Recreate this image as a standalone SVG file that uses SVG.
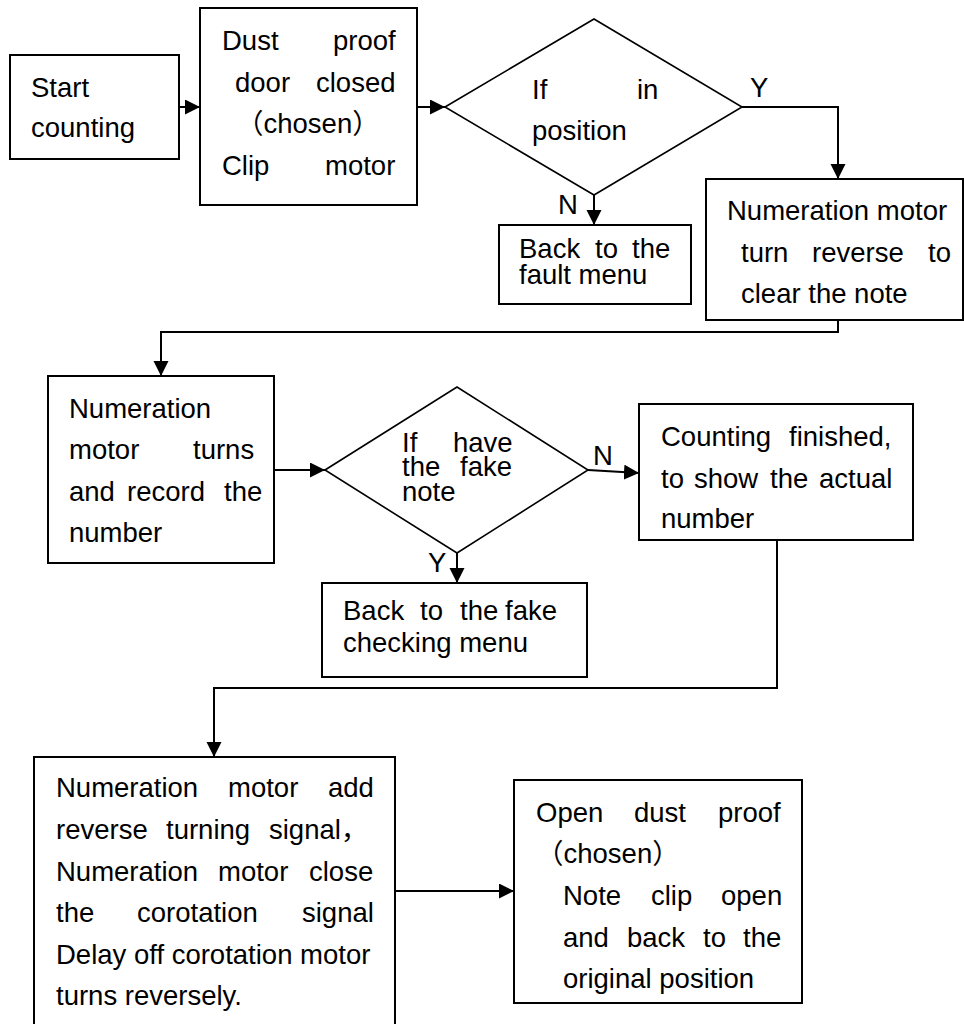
<svg xmlns="http://www.w3.org/2000/svg" width="964" height="1024" viewBox="0 0 964 1024">
<style>
text{font-family:"Liberation Sans","Noto Sans CJK SC",Arial,sans-serif;font-size:27.5px;fill:#000}
.box{fill:#fff;stroke:#000;stroke-width:2}
.dia{fill:#fff;stroke:#000;stroke-width:1.6}
.con{fill:none;stroke:#000;stroke-width:2}
</style>
<defs>
<marker id="ah" markerUnits="userSpaceOnUse" markerWidth="16" markerHeight="16" refX="15" refY="7.5" orient="auto">
<path d="M0,0 L15,7.5 L0,15 Z" fill="#000"/>
</marker>
</defs>
<rect width="964" height="1024" fill="#fff"/>

<g id="connectors">
<path class="con" d="M179,107 H200" marker-end="url(#ah)"/>
<path class="con" d="M417,107 H445" marker-end="url(#ah)"/>
<path class="con" d="M742,107 H838 V179" marker-end="url(#ah)"/>
<path class="con" d="M594,195 V225" marker-end="url(#ah)"/>
<path class="con" d="M838,320 V332 H161 V376" marker-end="url(#ah)"/>
<path class="con" d="M274,470 H325" marker-end="url(#ah)"/>
<path class="con" d="M457,553 V583" marker-end="url(#ah)"/>
<path class="con" d="M588,470 L639,473" marker-end="url(#ah)"/>
<path class="con" d="M777,540 V688 H214 V757" marker-end="url(#ah)"/>
<path class="con" d="M395,891 H514" marker-end="url(#ah)"/>
<text x="750" y="97">Y</text>
<text x="558" y="214">N</text>
<text x="428" y="572">Y</text>
<text x="593" y="465">N</text>
</g>

<g id="start">
<rect class="box" x="10" y="55" width="169" height="104"/>
<text><tspan x="31" y="97">Start</tspan><tspan x="31" y="137">counting</tspan></text>
</g>

<g id="dust-door">
<rect class="box" x="200" y="8" width="217" height="197"/>
<text><tspan x="222" y="50">Dust</tspan><tspan x="333" y="50">proof</tspan><tspan x="235" y="92">door</tspan><tspan x="316" y="92">closed</tspan><tspan x="236" y="133">（chosen）</tspan><tspan x="222" y="175">Clip</tspan><tspan x="325" y="175">motor</tspan></text>
</g>

<g id="in-position">
<polygon class="dia" points="445,107 594,19 742,107 594,195"/>
<text><tspan x="532" y="99">If</tspan><tspan x="637" y="99">in</tspan><tspan x="532" y="140">position</tspan></text>
</g>

<g id="fault-menu">
<rect class="box" x="499" y="225" width="192" height="79"/>
<text><tspan x="519" y="258">Back</tspan><tspan x="595" y="258">to</tspan><tspan x="632" y="258">the</tspan><tspan x="519" y="284">fault menu</tspan></text>
</g>

<g id="clear-note">
<rect class="box" x="706" y="179" width="257" height="141"/>
<text><tspan x="727" y="220">Numeration motor</tspan><tspan x="741" y="262">turn</tspan><tspan x="812" y="262">reverse</tspan><tspan x="928" y="262">to</tspan><tspan x="741" y="303">clear the note</tspan></text>
</g>

<g id="record-number">
<rect class="box" x="48" y="376" width="226" height="187"/>
<text><tspan x="69" y="418">Numeration</tspan><tspan x="69" y="459">motor</tspan><tspan x="193" y="459">turns</tspan><tspan x="69" y="501">and</tspan><tspan x="127" y="501">record</tspan><tspan x="224" y="501">the</tspan><tspan x="69" y="542">number</tspan></text>
</g>

<g id="fake-note">
<polygon class="dia" points="325,470 457,387 588,470 457,553"/>
<text><tspan x="402" y="452">If</tspan><tspan x="453" y="452">have</tspan><tspan x="402" y="476">the</tspan><tspan x="460" y="476">fake</tspan><tspan x="402" y="501">note</tspan></text>
</g>

<g id="fake-menu">
<rect class="box" x="322" y="583" width="265" height="94"/>
<text><tspan x="343" y="620">Back</tspan><tspan x="420" y="620">to</tspan><tspan x="460" y="620">the</tspan><tspan x="505" y="620">fake</tspan><tspan x="343" y="652">checking menu</tspan></text>
</g>

<g id="counting-finished">
<rect class="box" x="639" y="404" width="274" height="136"/>
<text><tspan x="661" y="446">Counting</tspan><tspan x="789" y="446">finished,</tspan><tspan x="661" y="488">to</tspan><tspan x="694" y="488">show</tspan><tspan x="770" y="488">the</tspan><tspan x="819" y="488">actual</tspan><tspan x="661" y="528">number</tspan></text>
</g>

<g id="reverse-signal">
<rect class="box" x="34" y="757" width="361" height="280"/>
<text><tspan x="56" y="797">Numeration</tspan><tspan x="228" y="797">motor</tspan><tspan x="328" y="797">add</tspan><tspan x="56" y="839">reverse</tspan><tspan x="166" y="839">turning</tspan><tspan x="269" y="839">signal，</tspan><tspan x="56" y="881">Numeration</tspan><tspan x="218" y="881">motor</tspan><tspan x="309" y="881">close</tspan><tspan x="56" y="922">the</tspan><tspan x="137" y="922">corotation</tspan><tspan x="302" y="922">signal</tspan><tspan x="56" y="964">Delay off corotation motor</tspan><tspan x="56" y="1005">turns reversely.</tspan></text>
</g>

<g id="open-dust">
<rect class="box" x="514" y="780" width="288" height="223"/>
<text><tspan x="536" y="822">Open</tspan><tspan x="634" y="822">dust</tspan><tspan x="718" y="822">proof</tspan><tspan x="536" y="863">（chosen）</tspan><tspan x="563" y="905">Note</tspan><tspan x="651" y="905">clip</tspan><tspan x="721" y="905">open</tspan><tspan x="563" y="947">and</tspan><tspan x="627" y="947">back</tspan><tspan x="703" y="947">to</tspan><tspan x="743" y="947">the</tspan><tspan x="563" y="988">original position</tspan></text>
</g>
</svg>
